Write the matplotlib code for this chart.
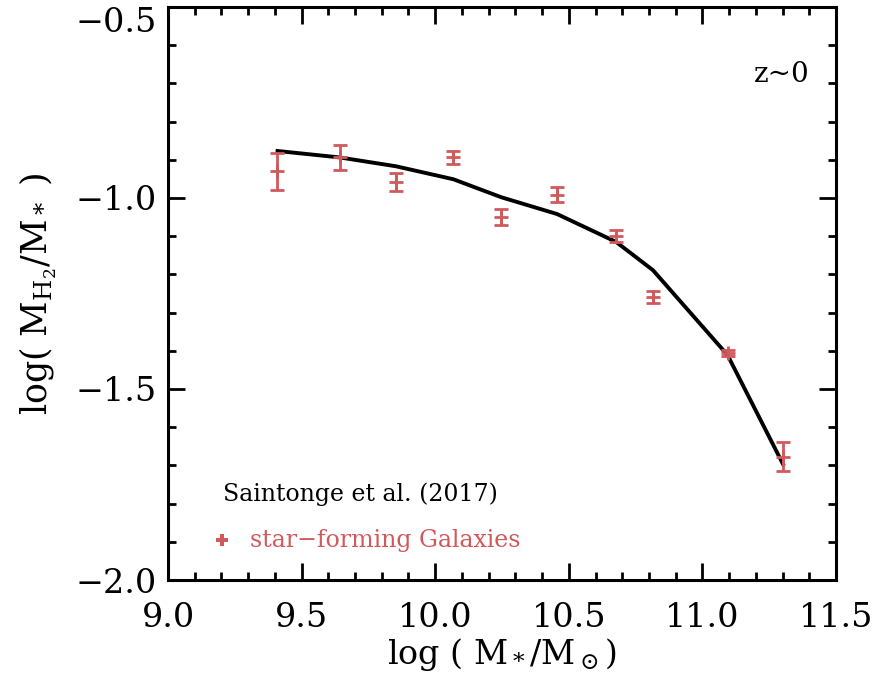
import matplotlib
matplotlib.use("Agg")
import matplotlib.pyplot as plt
from matplotlib.ticker import MultipleLocator

plt.rcParams['font.family'] = ['DejaVu Serif']
plt.rcParams['mathtext.fontset'] = 'dejavuserif'

# Saintonge et al. (2017) star-forming galaxies
log_mstar = [9.408, 9.644, 9.853, 10.068, 10.247, 10.456, 10.677, 10.815, 11.094, 11.302]
log_fh2 = [-0.930, -0.894, -0.959, -0.894, -1.050, -0.991, -1.100, -1.259, -1.406, -1.677]
fh2_err = [0.049, 0.033, 0.024, 0.018, 0.022, 0.019, 0.015, 0.015, 0.008, 0.038]

# model relation
model_mstar = [9.41, 9.644, 9.853, 10.068, 10.247, 10.456, 10.677, 10.815, 11.094, 11.302]
model_fh2 = [-0.877, -0.894, -0.917, -0.951, -0.998, -1.042, -1.115, -1.189, -1.411, -1.697]

xticks = [9.0, 9.5, 10.0, 10.5, 11.0, 11.5]
yticks = [-2.0, -1.5, -1.0, -0.5]
xtick_labels = ['9.0', '9.5', '10.0', '10.5', '11.0', '11.5']
ytick_labels = ['\u22122.0', '\u22121.5', '\u22121.0', '\u22120.5']

red = '#D0595B'

fig = plt.figure(figsize=(8.81, 6.83), dpi=100)
ax = fig.add_axes([0.1907, 0.1508, 0.7582, 0.8390])

ax.plot(model_mstar, model_fh2, color='black', lw=2.8, zorder=3)
ax.errorbar(log_mstar, log_fh2, yerr=fh2_err, fmt='+', color=red, ms=10, mew=2.0,
            elinewidth=2.0, capsize=5, capthick=2.0, zorder=4)

ax.set_xlim(9.0, 11.5)
ax.set_ylim(-2.0, -0.5)
ax.set_xticks(xticks)
ax.set_xticklabels(xtick_labels)
ax.set_yticks(yticks)
ax.set_yticklabels(ytick_labels)
ax.xaxis.set_minor_locator(MultipleLocator(0.1))
ax.yaxis.set_minor_locator(MultipleLocator(0.1))

ax.tick_params(which='both', direction='in', top=True, right=True, width=2.0, labelsize=24)
ax.tick_params(which='major', length=12)
ax.tick_params(axis='x', which='major', pad=16)
ax.tick_params(axis='y', which='major', pad=8)
ax.tick_params(which='minor', length=6)
for s in ax.spines.values():
    s.set_linewidth(2.2)

# keep the top y label inside the canvas
ax.get_yticklabels()[-1].set_va('top')

ax.set_xlabel(r'log ( M$_*$/M$_\odot$)', fontsize=24, labelpad=1)
ax.set_ylabel(r'log( M$_{\rm H_2}$/M$_*$ )', fontsize=25, labelpad=12)

ax.text(0.919, 0.882, 'z~0', transform=ax.transAxes, fontsize=20, ha='center', va='center')
ax.text(9.205, -1.776, 'Saintonge et al. (2017)', fontsize=17, color='black', va='center')
ax.plot([9.201], [-1.896], marker='P', color=red, ms=9, mew=0, ls='none')
ax.text(9.306, -1.896, 'star\u2212forming Galaxies', fontsize=17, color=red, va='center')

fig.savefig('out.png', dpi=100)
